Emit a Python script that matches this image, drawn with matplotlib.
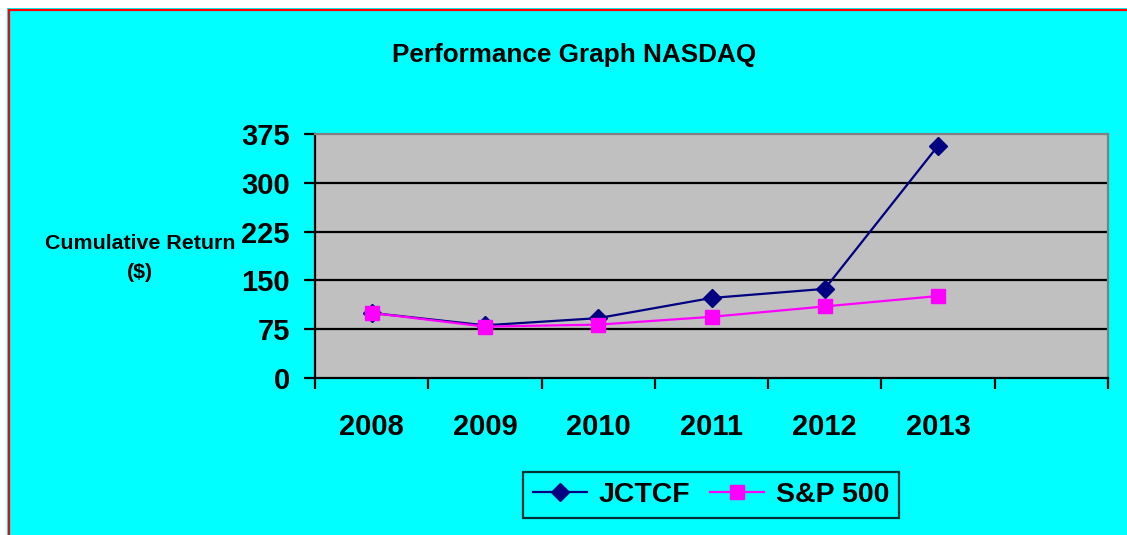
import matplotlib
matplotlib.use("Agg")
from matplotlib import pyplot as plt
from matplotlib.patches import Rectangle
from matplotlib.lines import Line2D

years = ["2008", "2009", "2010", "2011", "2012", "2013", ""]
jctcf = [100, 81, 92, 123, 137, 357]
sp500 = [100, 79, 82, 94, 110, 126]
y_ticks = [0, 75, 150, 225, 300, 375]

plt.rcParams['font.family'] = ['Liberation Sans', 'DejaVu Sans']
plt.rcParams['font.weight'] = 'bold'

fig = plt.figure(figsize=(11.27, 5.35), dpi=100, facecolor='white')

# cyan chart area, clipped on the right and bottom, red frame on left/top
W, H = 1127, 535
fig.patches.append(Rectangle((7 / W, 0), 1, 1 - 8 / H, transform=fig.transFigure,
                             facecolor='#00FFFF', edgecolor='none', zorder=-10))
fig.lines.append(Line2D([9 / W, 9 / W], [0, 1 - 9.5 / H], transform=fig.transFigure,
                        color='red', lw=1.6, zorder=-5))
fig.lines.append(Line2D([9 / W, 1], [1 - 9.5 / H, 1 - 9.5 / H], transform=fig.transFigure,
                        color='red', lw=1.6, zorder=-5))

ax = fig.add_axes([315 / W, 1 - 378 / H, (1108 - 315) / W, (378 - 134) / H])
ax.set_facecolor('#C0C0C0')

x = list(range(len(jctcf)))
ax.plot(x, jctcf, color='#000080', lw=1.6, marker='D', ms=9, label='JCTCF', zorder=3)
ax.plot(x, sp500, color='#FF00FF', lw=1.6, marker='s', ms=10.5, label='S&P 500', zorder=4)

ax.set_xlim(-0.5, len(years) - 0.5)
ax.set_ylim(0, 375)
ax.set_yticks(y_ticks)
ax.set_yticklabels([str(v) for v in y_ticks], fontsize=21, fontweight='bold')
ax.tick_params(axis='y', direction='out', length=8, width=1.6, pad=10)

ax.set_xticks(range(len(years)))
ax.set_xticklabels(years, fontsize=21, fontweight='bold')
ax.set_xticks([i - 0.5 for i in range(len(years) + 1)], minor=True)
ax.tick_params(axis='x', which='major', length=0, pad=25)
ax.tick_params(axis='x', which='minor', direction='out', length=8, width=1.6)

for v in y_ticks[1:-1]:
    ax.axhline(v, color='black', lw=1.6, zorder=1)

ax.spines['left'].set_linewidth(1.6)
ax.spines['bottom'].set_linewidth(1.6)
ax.spines['top'].set_color('#808080')
ax.spines['right'].set_color('#808080')
ax.spines['top'].set_linewidth(1.6)
ax.spines['right'].set_linewidth(1.6)

fig.text(574 / W, 1 - 55 / H, "Performance Graph NASDAQ", ha='center', va='center',
         fontsize=18.8, fontweight='bold')
fig.text(140 / W, 1 - 258 / H, "Cumulative Return\n($)", ha='center', va='center',
         fontsize=15.4, fontweight='bold', linespacing=1.7)

leg = fig.legend(loc='center', bbox_to_anchor=(711 / W, 1 - 495 / H), ncol=2,
                 frameon=True, fancybox=False, facecolor='#00FFFF', edgecolor='black',
                 prop={'size': 20.5, 'weight': 'bold'}, handlelength=1.9,
                 columnspacing=0.7, handletextpad=0.4, borderpad=0.35)
leg.get_frame().set_linewidth(1.6)

fig.savefig('out.png', dpi=100, facecolor=fig.get_facecolor())
